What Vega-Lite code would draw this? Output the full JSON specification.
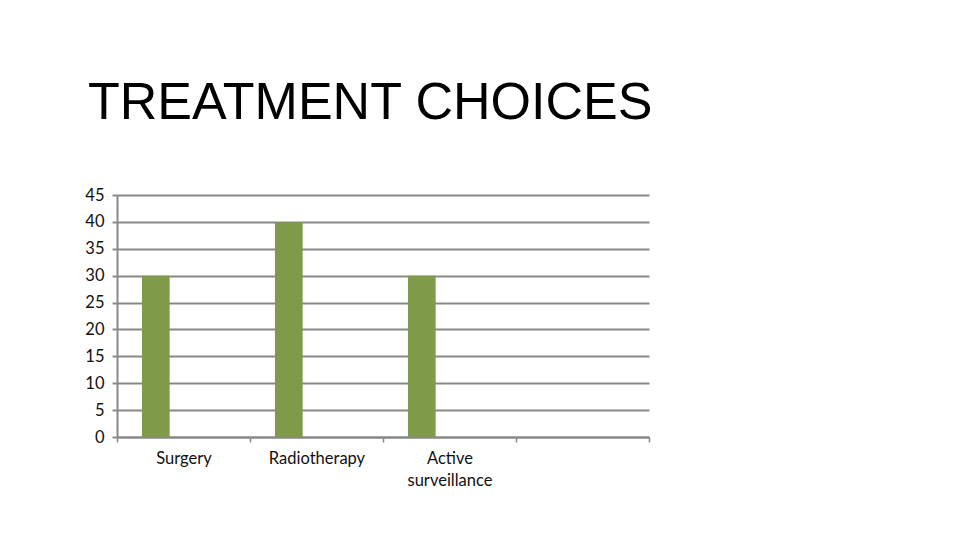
{
  "$schema": "https://vega.github.io/schema/vega-lite/v6.json",
  "autosize": "none",
  "padding": {"left": 117, "top": 195, "right": 311, "bottom": 103},
  "width": 532,
  "height": 242,
  "background": "white",
  "title": {
    "text": "TREATMENT CHOICES",
    "anchor": "start",
    "frame": "group",
    "font": "Liberation Sans",
    "fontSize": 52,
    "fontWeight": "normal",
    "color": "#000000",
    "baseline": "alphabetic",
    "dx": -29,
    "offset": 16
  },
  "data": {
    "values": [
      {"treatment": "Surgery", "series": "Series 1", "value": 30},
      {"treatment": "Radiotherapy", "series": "Series 1", "value": 40},
      {"treatment": "Active surveillance", "series": "Series 1", "value": 30}
    ]
  },
  "mark": {"type": "bar", "color": "#7f9b49"},
  "encoding": {
    "x": {
      "field": "treatment",
      "type": "nominal",
      "scale": {
        "domain": ["Surgery", "Radiotherapy", "Active surveillance", " "],
        "paddingInner": 0,
        "paddingOuter": 0
      },
      "axis": {
        "title": null,
        "labelAngle": 0,
        "tickBand": "extent",
        "tickSize": 5,
        "tickColor": "#888888",
        "tickWidth": 1.5,
        "domainColor": "#888888",
        "domainWidth": 2,
        "labelFont": "Lato",
        "labelFontSize": 16.5,
        "labelColor": "#111111",
        "labelPadding": 8,
        "labelLineHeight": 22,
        "labelExpr": "datum.value == 'Active surveillance' ? ['Active', 'surveillance'] : datum.value"
      }
    },
    "xOffset": {
      "field": "series",
      "type": "nominal",
      "scale": {
        "domain": ["Series 1", "Series 2", "Series 3"],
        "paddingInner": 0,
        "paddingOuter": 0.9
      }
    },
    "y": {
      "field": "value",
      "type": "quantitative",
      "scale": {"domain": [0, 45], "nice": false},
      "axis": {
        "title": null,
        "values": [0, 5, 10, 15, 20, 25, 30, 35, 40, 45],
        "grid": true,
        "gridColor": "#888888",
        "gridWidth": 2,
        "tickSize": 5,
        "tickColor": "#888888",
        "tickWidth": 2,
        "domainColor": "#888888",
        "domainWidth": 2,
        "labelFont": "Lato",
        "labelFontSize": 16.5,
        "labelColor": "#111111",
        "labelPadding": 8
      }
    }
  },
  "config": {
    "view": {"stroke": null}
  }
}
